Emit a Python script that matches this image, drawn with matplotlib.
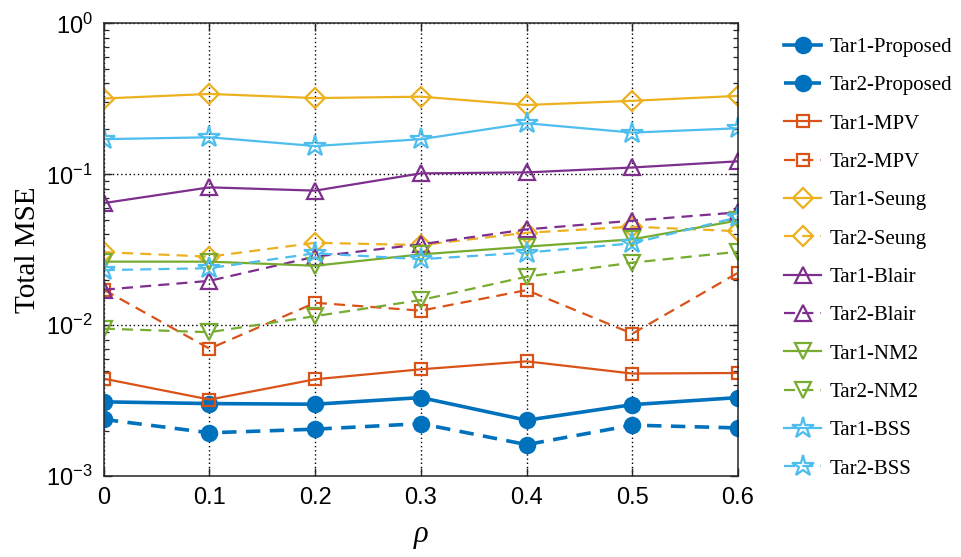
import matplotlib
matplotlib.use("Agg")
import matplotlib.pyplot as plt
import numpy as np
from matplotlib.ticker import LogLocator, NullFormatter

rho = [0, 0.1, 0.2, 0.3, 0.4, 0.5, 0.6]

tar1_proposed = [0.00311, 0.00303, 0.00300, 0.00332, 0.00235, 0.00298, 0.00332]
tar2_proposed = [0.00238, 0.00194, 0.00205, 0.00223, 0.00162, 0.00218, 0.00209]
tar1_mpv = [0.00443, 0.00322, 0.00439, 0.00511, 0.00577, 0.00479, 0.00483]
tar2_mpv = [0.0172, 0.0070, 0.0141, 0.0125, 0.0171, 0.0088, 0.0223]
tar1_seung = [0.318, 0.341, 0.320, 0.327, 0.288, 0.307, 0.331]
tar2_seung = [0.0305, 0.0285, 0.0352, 0.0340, 0.0410, 0.0450, 0.0420]
tar1_blair = [0.0645, 0.0820, 0.0780, 0.1015, 0.1030, 0.1110, 0.1220]
tar2_blair = [0.0172, 0.0197, 0.0285, 0.0344, 0.0432, 0.0493, 0.0560]
tar1_nm2 = [0.0264, 0.0264, 0.0248, 0.0295, 0.0332, 0.0371, 0.0495]
tar2_nm2 = [0.0095, 0.0090, 0.0115, 0.0147, 0.0210, 0.0260, 0.0307]
tar1_bss = [0.171, 0.176, 0.154, 0.171, 0.218, 0.189, 0.202]
tar2_bss = [0.0232, 0.0239, 0.0300, 0.0274, 0.0303, 0.0349, 0.0520]

x_ticks = [0, 0.1, 0.2, 0.3, 0.4, 0.5, 0.6]
x_tick_labels = ["0", "0.1", "0.2", "0.3", "0.4", "0.5", "0.6"]
y_ticks = [1e-3, 1e-2, 1e-1, 1e0]
y_tick_labels = [r"$\mathregular{10^{-3}}$", r"$\mathregular{10^{-2}}$",
                 r"$\mathregular{10^{-1}}$", r"$\mathregular{10^{0}}$"]

C_BLUE = "#0072BD"
C_ORANGE = "#D95319"
C_YELLOW = "#EDB120"
C_PURPLE = "#7E2F8E"
C_GREEN = "#77AC30"
C_CYAN = "#4DBEEE"

series = [
    ("Tar1-Proposed", tar1_proposed, C_BLUE, "o", "-", True),
    ("Tar2-Proposed", tar2_proposed, C_BLUE, "o", "--", True),
    ("Tar1-MPV", tar1_mpv, C_ORANGE, "s", "-", False),
    ("Tar2-MPV", tar2_mpv, C_ORANGE, "s", "--", False),
    ("Tar1-Seung", tar1_seung, C_YELLOW, "D", "-", False),
    ("Tar2-Seung", tar2_seung, C_YELLOW, "D", "--", False),
    ("Tar1-Blair", tar1_blair, C_PURPLE, "^", "-", False),
    ("Tar2-Blair", tar2_blair, C_PURPLE, "^", "--", False),
    ("Tar1-NM2", tar1_nm2, C_GREEN, "v", "-", False),
    ("Tar2-NM2", tar2_nm2, C_GREEN, "v", "--", False),
    ("Tar1-BSS", tar1_bss, C_CYAN, "*", "-", False),
    ("Tar2-BSS", tar2_bss, C_CYAN, "*", "--", False),
]

fig = plt.figure(figsize=(9.61, 5.57), dpi=100)
ax = fig.add_axes([0.108, 0.145, 0.660, 0.813])

sizes = {"o": 11, "s": 9, "D": 10, "^": 12, "v": 12, "*": 16}
for label, vals, color, mk, ls, filled in series:
    lw = 2.6 if filled else 1.6
    line, = ax.plot(rho, vals, color=color, marker=mk, linestyle=ls,
                    linewidth=lw, markersize=sizes[mk],
                    markerfacecolor=color if filled else "none",
                    markeredgecolor=color, markeredgewidth=1.6,
                    label=label)
    if ls == "--":
        line.set_dashes((4.0, 2.6) if filled else (5.0, 3.2))

ax.set_yscale("log")
ax.set_xlim(0, 0.6)
ax.set_ylim(1e-3, 1e0)
ax.set_xticks(x_ticks)
ax.set_xticklabels(x_tick_labels, family="Liberation Sans", fontsize=17)
ax.set_yticks(y_ticks)
ax.set_yticklabels(y_tick_labels, family="Liberation Sans", fontsize=17)
ax.yaxis.set_minor_locator(LogLocator(base=10, subs=np.arange(2, 10), numticks=20))
ax.yaxis.set_minor_formatter(NullFormatter())

ax.tick_params(which="both", direction="in", top=True, right=True, color="#262626")
ax.tick_params(which="major", length=6, width=1.0, pad=8)
ax.tick_params(which="minor", length=3.5, width=0.9)
for sp in ax.spines.values():
    sp.set_linewidth(1.1)
    sp.set_color("#262626")

ax.grid(True, which="major", color="black", linestyle=(0, (1, 2)), linewidth=1.0)

ax.set_xlabel("ρ", fontsize=22, family="Liberation Serif", style="italic", labelpad=8)
ax.set_ylabel("Total MSE", fontsize=21, family="Liberation Serif", labelpad=4)

leg = fig.legend(loc="upper left", bbox_to_anchor=(0.807, 0.948), frameon=False,
                 prop={"family": "Liberation Serif", "size": 15},
                 handlelength=1.8, labelspacing=0.9, handletextpad=0.4,
                 borderaxespad=0)

fig.savefig("out.png", dpi=100)
